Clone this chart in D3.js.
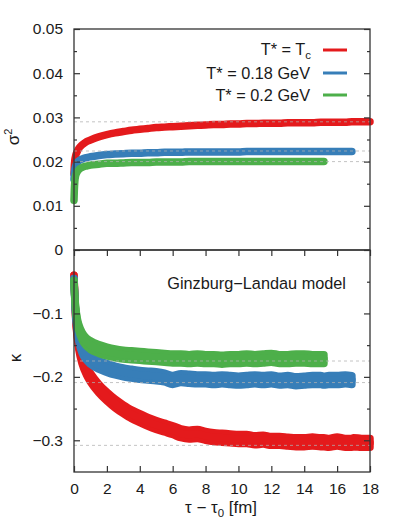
<!DOCTYPE html>
<html>
<head>
<meta charset="utf-8">
<script src="https://cdn.jsdelivr.net/npm/d3@7"></script>
<style>
  body { margin: 0; background: #fff; }
  svg text { font-family: "Liberation Sans", Arial, sans-serif; fill: #1a1a1a; }
</style>
</head>
<body>
<div id="chart"></div>
<script>
// time grid (fm), shared by all series; a series stops where its array ends
var tau = [0, 0.02, 0.05, 0.1, 0.2, 0.3, 0.5, 0.75, 1, 1.5, 2, 2.5, 3, 3.5, 4, 4.5,
           5, 5.5, 6, 6.5, 7, 7.5, 8, 8.5, 9, 9.5, 10, 10.5, 11, 11.5, 12, 12.5,
           13, 13.5, 14, 14.5, 15, 15.2, 15.5, 16, 16.5, 16.9, 17, 17.5, 18];

// sigma^2
var sigRed = [0.0172, 0.0190, 0.0203, 0.0213, 0.0223, 0.0230, 0.0238, 0.0245, 0.0249, 0.0256,
              0.0261, 0.0265, 0.0268, 0.0271, 0.0273, 0.0275, 0.0277, 0.0278, 0.0279, 0.0280,
              0.0281, 0.0282, 0.0283, 0.0284, 0.0284, 0.0285, 0.0285, 0.0286, 0.0286, 0.0287,
              0.0287, 0.0287, 0.0288, 0.0288, 0.0288, 0.0288, 0.0289, 0.0289, 0.0289, 0.0289,
              0.0289, 0.0290, 0.0290, 0.0290, 0.0290];
var sigBlue = [0.0160, 0.0172, 0.0182, 0.0190, 0.0198, 0.0202, 0.0206, 0.0209, 0.0211, 0.0214,
               0.0216, 0.0217, 0.0218, 0.0219, 0.0219, 0.0220, 0.0220, 0.0221, 0.0221, 0.0221,
               0.0222, 0.0222, 0.0222, 0.0222, 0.0222, 0.0222, 0.0222, 0.0223, 0.0223, 0.0223,
               0.0223, 0.0223, 0.0223, 0.0223, 0.0223, 0.0223, 0.0223, 0.0223, 0.0223, 0.0223,
               0.0223, 0.0223];
var sigGreen = [0.0112, 0.0135, 0.0155, 0.0168, 0.0177, 0.0182, 0.0187, 0.0190, 0.0192, 0.0194,
                0.0196, 0.0196, 0.0197, 0.0198, 0.0198, 0.0198, 0.0199, 0.0199, 0.0199, 0.0199,
                0.0200, 0.0200, 0.0200, 0.0200, 0.0200, 0.0200, 0.0200, 0.0200, 0.0200, 0.0200,
                0.0200, 0.0200, 0.0200, 0.0200, 0.0200, 0.0200, 0.0200, 0.0200];

// kappa
var kapRed = [-0.040, -0.055, -0.075, -0.105, -0.135, -0.153, -0.174, -0.190, -0.201, -0.218,
              -0.231, -0.242, -0.251, -0.259, -0.265, -0.271, -0.276, -0.280, -0.284, -0.289,
              -0.291, -0.290, -0.293, -0.295, -0.296, -0.297, -0.298, -0.298, -0.300, -0.299,
              -0.301, -0.301, -0.302, -0.303, -0.303, -0.302, -0.303, -0.303, -0.304, -0.302,
              -0.304, -0.304, -0.303, -0.304, -0.304];
var kapBlue = [-0.045, -0.060, -0.078, -0.100, -0.125, -0.140, -0.157, -0.167, -0.173, -0.181,
               -0.186, -0.190, -0.193, -0.195, -0.197, -0.198, -0.199, -0.201, -0.205, -0.202,
               -0.203, -0.204, -0.204, -0.205, -0.204, -0.205, -0.206, -0.205, -0.204, -0.205,
               -0.204, -0.206, -0.205, -0.207, -0.206, -0.205, -0.205, -0.206, -0.205, -0.205,
               -0.204, -0.205];
var kapGreen = [-0.048, -0.060, -0.075, -0.092, -0.112, -0.123, -0.136, -0.145, -0.150, -0.156,
                -0.160, -0.163, -0.165, -0.166, -0.167, -0.168, -0.169, -0.170, -0.171, -0.171,
                -0.172, -0.171, -0.172, -0.172, -0.173, -0.172, -0.172, -0.171, -0.172, -0.171,
                -0.170, -0.172, -0.172, -0.171, -0.171, -0.172, -0.172, -0.172];
// half width of the event-by-event scatter around kappa
var kapSpread = [0, 0.001, 0.002, 0.003, 0.004, 0.005, 0.006, 0.0065, 0.007, 0.007,
                 0.007, 0.007, 0.007, 0.007, 0.007, 0.007, 0.007, 0.007, 0.007, 0.007,
                 0.007, 0.007, 0.007, 0.007, 0.007, 0.007, 0.007, 0.007, 0.007, 0.007,
                 0.007, 0.007, 0.007, 0.007, 0.007, 0.007, 0.007, 0.007, 0.007, 0.007,
                 0.007, 0.007, 0.007, 0.007, 0.007];

// asymptotic values (dashed guides)
var sigRef = [0.029, 0.0224, 0.0200];
var kapRef = [-0.175, -0.209, -0.308];

var xTicks = [0, 2, 4, 6, 8, 10, 12, 14, 16, 18];
var sigTicks = [0, 0.01, 0.02, 0.03, 0.04, 0.05];
var sigMinor = [0.005, 0.015, 0.025, 0.035, 0.045];
var kapTicks = [-0.3, -0.2, -0.1];
var kapMinor = [-0.05, -0.15, -0.25];

var colors = ["#e41a1c", "#377eb8", "#4daf4a"];
var legendLabels = ["0.18 GeV", "0.2 GeV"];

function draw() {
    var width = 399, height = 524;
    var left = 74, right = 370, plotTop = 29, mid = 250, bottom = 472;

    var svg = d3.select("#chart").append("svg")
        .attr("width", width)
        .attr("height", height);

    var x = d3.scaleLinear().domain([0, 18]).range([left, right]);
    var yTop = d3.scaleLinear().domain([0, 0.05]).range([mid, plotTop]);
    var yBot = d3.scaleLinear().domain([-0.35, 0]).range([bottom, mid]);

    var tickFont = "15.5px";
    var textFont = "16.3px";

    // ---- data ----
    var sigSeries = [sigRed, sigBlue, sigGreen];
    var kapSeries = [kapRed, kapBlue, kapGreen];

    var topLine = d3.line()
        .x(function(d, i) { return x(tau[i]); })
        .y(function(d) { return yTop(d); })
        .curve(d3.curveMonotoneX);

    var botLine = d3.line()
        .x(function(d, i) { return x(tau[i]); })
        .y(function(d) { return yBot(d); })
        .curve(d3.curveMonotoneX);

    var botArea = d3.area()
        .x(function(d, i) { return x(tau[i]); })
        .y0(function(d, i) { return yBot(d - kapSpread[i]); })
        .y1(function(d, i) { return yBot(d + kapSpread[i]); })
        .curve(d3.curveMonotoneX);

    sigSeries.forEach(function(s, k) {
        svg.append("path")
            .attr("d", topLine(s))
            .attr("fill", "none")
            .attr("stroke", colors[k])
            .attr("stroke-width", 7.5)
            .attr("stroke-linecap", "round")
            .attr("stroke-linejoin", "round");
    });

    kapSeries.forEach(function(s, k) {
        svg.append("path")
            .attr("d", botArea(s))
            .attr("fill", colors[k])
            .attr("stroke", colors[k])
            .attr("stroke-width", 7.5)
            .attr("stroke-linejoin", "round");
        svg.append("path")
            .attr("d", botLine(s))
            .attr("fill", "none")
            .attr("stroke", colors[k])
            .attr("stroke-width", 7.5)
            .attr("stroke-linecap", "round")
            .attr("stroke-linejoin", "round");
    });

    // dashed guides on top of the bands
    svg.selectAll("line.sigref")
        .data(sigRef)
        .enter().append("line")
        .attr("class", "sigref")
        .attr("x1", left).attr("x2", right)
        .attr("y1", function(d) { return yTop(d); })
        .attr("y2", function(d) { return yTop(d); })
        .attr("stroke", "#b0b0b0")
        .attr("stroke-opacity", 0.75)
        .attr("stroke-dasharray", "3,3");

    svg.selectAll("line.kapref")
        .data(kapRef)
        .enter().append("line")
        .attr("class", "kapref")
        .attr("x1", left).attr("x2", right)
        .attr("y1", function(d) { return yBot(d); })
        .attr("y2", function(d) { return yBot(d); })
        .attr("stroke", "#b0b0b0")
        .attr("stroke-opacity", 0.75)
        .attr("stroke-dasharray", "3,3");

    // ---- axes ----
    function styleAxis(g) {
        g.select(".domain").remove();
        g.selectAll("line").attr("stroke", "#333").attr("stroke-width", 1.2);
        g.selectAll("text").style("font-size", tickFont).attr("fill", "#1a1a1a");
    }

    var sigFmt = function(d) { return d === 0 ? "0" : d3.format(".2f")(d); };

    svg.append("g").attr("transform", "translate(" + left + ",0)")
        .call(d3.axisLeft(yTop).tickValues(sigTicks).tickSize(-6).tickPadding(11).tickFormat(sigFmt))
        .call(styleAxis);
    svg.append("g").attr("transform", "translate(" + left + ",0)")
        .call(d3.axisLeft(yTop).tickValues(sigMinor).tickSize(-3).tickFormat(""))
        .call(styleAxis);
    svg.append("g").attr("transform", "translate(" + right + ",0)")
        .call(d3.axisRight(yTop).tickValues(sigTicks).tickSize(-6).tickFormat(""))
        .call(styleAxis);
    svg.append("g").attr("transform", "translate(" + right + ",0)")
        .call(d3.axisRight(yTop).tickValues(sigMinor).tickSize(-3).tickFormat(""))
        .call(styleAxis);

    svg.append("g").attr("transform", "translate(" + left + ",0)")
        .call(d3.axisLeft(yBot).tickValues(kapTicks).tickSize(-6).tickPadding(11).tickFormat(d3.format(".1f")))
        .call(styleAxis);
    svg.append("g").attr("transform", "translate(" + left + ",0)")
        .call(d3.axisLeft(yBot).tickValues(kapMinor).tickSize(-3).tickFormat(""))
        .call(styleAxis);
    svg.append("g").attr("transform", "translate(" + right + ",0)")
        .call(d3.axisRight(yBot).tickValues(kapTicks).tickSize(-6).tickFormat(""))
        .call(styleAxis);
    svg.append("g").attr("transform", "translate(" + right + ",0)")
        .call(d3.axisRight(yBot).tickValues(kapMinor).tickSize(-3).tickFormat(""))
        .call(styleAxis);

    svg.append("g").attr("transform", "translate(0," + bottom + ")")
        .call(d3.axisBottom(x).tickValues(xTicks).tickSize(-6).tickPadding(11).tickFormat(d3.format("d")))
        .call(styleAxis);
    svg.append("g").attr("transform", "translate(0," + mid + ")")
        .call(d3.axisTop(x).tickValues(xTicks).tickSize(-6).tickFormat(""))
        .call(styleAxis);

    // frames
    [[plotTop, mid], [mid, bottom]].forEach(function(p) {
        svg.append("rect")
            .attr("x", left).attr("y", p[0])
            .attr("width", right - left).attr("height", p[1] - p[0])
            .attr("fill", "none")
            .attr("stroke", "#333")
            .attr("stroke-width", 1.3);
    });

    // axis titles
    svg.append("text")
        .attr("transform", "translate(19,137) rotate(-90)")
        .attr("text-anchor", "middle")
        .style("font-size", "17px")
        .html("σ<tspan dy='-7' style='font-size:11px'>2</tspan>");

    svg.append("text")
        .attr("transform", "translate(21,358) rotate(-90)")
        .attr("text-anchor", "middle")
        .style("font-size", "17px")
        .text("κ");

    svg.append("text")
        .attr("x", 221)
        .attr("y", 513)
        .attr("text-anchor", "middle")
        .attr("textLength", 72)
        .attr("lengthAdjust", "spacingAndGlyphs")
        .style("font-size", textFont)
        .html("τ − τ<tspan dy='4' style='font-size:11px'>0</tspan><tspan dy='-4'> [fm]</tspan>");

    svg.append("text")
        .attr("x", 346)
        .attr("y", 289)
        .attr("text-anchor", "end")
        .style("font-size", textFont)
        .text("Ginzburg−Landau model");

    // legend
    var legY = [50, 73, 95];
    var leg = svg.append("g");
    leg.append("text")
        .attr("x", 311).attr("y", legY[0] + 5)
        .attr("text-anchor", "end")
        .style("font-size", textFont)
        .html("T* = T<tspan dy='4' style='font-size:11.5px'>c</tspan>");
    legendLabels.forEach(function(l, i) {
        leg.append("text")
            .attr("x", 310).attr("y", legY[i + 1] + 5.5)
            .attr("text-anchor", "end")
            .style("font-size", textFont)
            .text("T* = " + l);
    });
    leg.selectAll("line")
        .data(colors)
        .enter().append("line")
        .attr("x1", 323).attr("x2", 347)
        .attr("y1", function(d, i) { return legY[i]; })
        .attr("y2", function(d, i) { return legY[i]; })
        .attr("stroke", function(d) { return d; })
        .attr("stroke-width", 3);
}

draw();
</script>
</body>
</html>
